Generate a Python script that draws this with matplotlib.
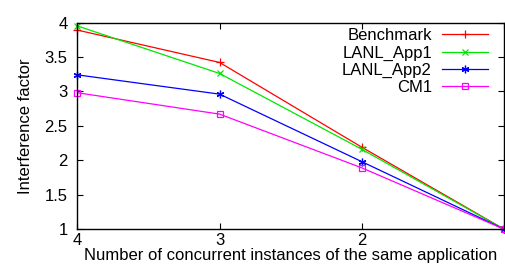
import matplotlib
matplotlib.use("Agg")
import matplotlib.pyplot as plt

plt.rcParams["font.family"] = ["Liberation Sans", "DejaVu Sans"]

instances = [4, 3, 2, 1]
benchmark = [3.89, 3.42, 2.19, 1.0]
lanl_app1 = [3.95, 3.26, 2.16, 1.0]
lanl_app2 = [3.24, 2.96, 1.98, 1.0]
cm1 = [2.98, 2.67, 1.89, 1.0]

x_ticks = [4, 3, 2, 1]
x_labels = ["4", "3", "2", ""]
y_ticks = [1, 1.5, 2, 2.5, 3, 3.5, 4]
y_labels = ["1", "1.5", "2", "2.5", "3", "3.5", "4"]

FS = 12

fig = plt.figure(figsize=(5.06, 2.68), dpi=100)
ax = fig.add_axes([0.153, 0.145, 0.843, 0.771])

ax.plot(instances, benchmark, color="#ff0000", lw=0.9, marker="+", ms=6, mew=0.9,
        label="Benchmark", clip_on=False)
ax.plot(instances, lanl_app1, color="#00e600", lw=0.9, marker="x", ms=4.5, mew=0.9,
        label="LANL_App1", clip_on=False)
ax.plot(instances, lanl_app2, color="#0000ff", lw=0.9, marker=(6, 2, 0), ms=5.5, mew=0.9,
        label="LANL_App2", clip_on=False)
ax.plot(instances, cm1, color="#ff00ff", lw=0.9, marker="s", ms=4.5, mew=0.9,
        mfc="none", label="CM1", clip_on=False)

ax.set_xlim(4, 1)
ax.set_ylim(1, 4)
ax.set_xticks(x_ticks)
ax.set_xticklabels(x_labels)
ax.set_yticks(y_ticks)
ax.set_yticklabels(y_labels)
ax.tick_params(direction="in", length=4, width=0.8, top=True, right=True,
               labelsize=FS)
ax.tick_params(axis="x", pad=2.5)
ax.tick_params(axis="y", pad=7)
for s in ax.spines.values():
    s.set_linewidth(1.0)

ax.set_xlabel("Number of concurrent instances of the same application", fontsize=FS,
              labelpad=0)
ax.set_ylabel("Interference factor", fontsize=FS, labelpad=8)

ax.legend(loc="upper right", frameon=False, markerfirst=False, numpoints=1,
          fontsize=FS, handlelength=2.75, handletextpad=0.6, labelspacing=0.13,
          borderaxespad=0.0, borderpad=0.0, bbox_to_anchor=(0.962, 0.972))

fig.savefig("out.png", dpi=100)
